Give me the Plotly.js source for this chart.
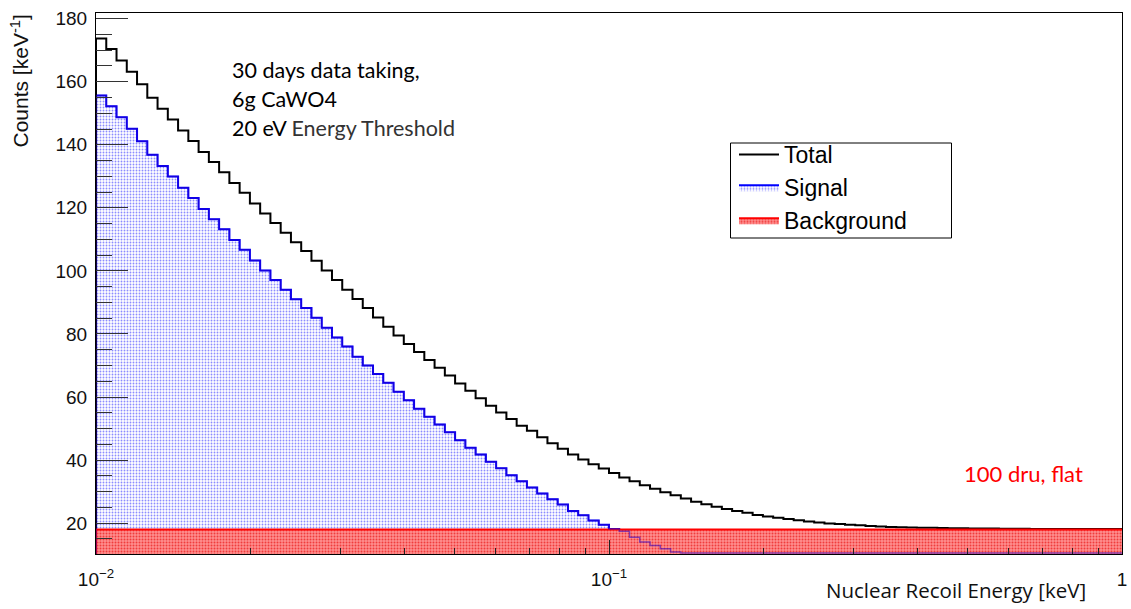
<!DOCTYPE html>
<html>
<head>
<meta charset="utf-8">
<script src="https://cdn.plot.ly/plotly-3.0.1.min.js"></script>
<style>
  html, body { margin: 0; padding: 0; background: #fff; }
  #chart { width: 1131px; height: 609px; }
</style>
</head>
<body>
<div id="chart"></div>
<script>
// ---- histogram binning (log-spaced bins, as in the reference) ----
const energyMin = 0.01;   // keV
const energyMax = 1;      // keV
const nBins = 100;

// ---- bin contents (counts / keV) ----
const totalCounts = [
  173.7,170.4,166.7,163.2,159.2,154.9,151.4,148.0,144.5,141.2,
  137.7,134.5,131.3,127.9,124.8,121.4,118.2,115.2,112.1,109.1,
  106.3,103.2,100.1,97.1,94.0,91.1,88.2,85.2,82.3,79.5,
  76.8,74.3,71.7,69.3,66.8,64.3,62.0,59.6,57.2,55.1,
  53.0,50.9,49.3,47.2,45.3,43.6,41.8,40.2,38.7,37.3,
  35.9,34.5,33.3,32.0,30.9,29.8,28.8,27.8,26.8,26.0,
  25.2,24.5,23.8,23.3,22.6,22.1,21.7,21.3,20.9,20.5,
  20.2,19.9,19.7,19.5,19.3,19.1,18.9,18.8,18.7,18.6,
  18.55,18.5,18.45,18.4,18.35,18.3,18.25,18.25,18.2,18.2,
  18.2,18.15,18.15,18.15,18.1,18.1,18.1,18.1,18.1,18.1
];
const signalCounts = [
  155.6,152.2,148.7,145.1,141.1,136.8,133.3,129.9,126.4,123.1,
  119.6,116.4,113.2,109.8,106.7,103.3,100.1,97.1,94.0,91.0,
  88.2,85.1,82.0,78.9,76.0,72.8,70.0,67.3,64.5,61.7,
  59.0,56.3,53.7,51.3,48.8,46.3,43.9,41.8,39.5,37.4,
  35.2,33.3,31.3,29.4,27.6,25.9,23.8,22.5,20.8,19.5,
  18.1,17.4,15.5,14.0,12.9,11.9,10.8,0,0,0,
  0,0,0,0,0,0,0,0,0,0,
  0,0,0,0,0,0,0,0,0,0,
  0,0,0,0,0,0,0,0,0,0,
  0,0,0,0,0,0,0,0,0,0
];
const backgroundCounts = [
  18,18,18,18,18,18,18,18,18,18,
  18,18,18,18,18,18,18,18,18,18,
  18,18,18,18,18,18,18,18,18,18,
  18,18,18,18,18,18,18,18,18,18,
  18,18,18,18,18,18,18,18,18,18,
  18,18,18,18,18,18,18,18,18,18,
  18,18,18,18,18,18,18,18,18,18,
  18,18,18,18,18,18,18,18,18,18,
  18,18,18,18,18,18,18,18,18,18,
  18,18,18,18,18,18,18,18,18,18
];

// ---- axes / labels ----
const yRange = [10.2, 181.8];
const xTickVals = [0.01, 0.1, 1];
const xTickText = ['10<sup>\u22122</sup>', '10<sup>\u22121</sup>', '1'];
const infoLines = ['30 days data taking,', '6g CaWO4', '20 eV <span style="color:#333">Energy Threshold</span>'];
const bgNote = '100 dru, flat';

// bin edges
const edges = [];
for (let i = 0; i <= nBins; i++) {
  edges.push(Math.pow(10, Math.log10(energyMin) + (Math.log10(energyMax) - Math.log10(energyMin)) * i / nBins));
}
// ROOT-style step path: starts at frame bottom, empty bins drawn on the frame minimum
function stepPath(vals) {
  const floor = yRange[0] + 0.3;
  const x = [edges[0]], y = [yRange[0]];
  for (let i = 0; i < vals.length; i++) { x.push(edges[i]); y.push(Math.max(vals[i], floor)); }
  x.push(edges[nBins]); y.push(Math.max(vals[vals.length - 1], floor));
  return {x, y};
}

const sig = stepPath(signalCounts);
const tot = stepPath(totalCounts);
const bkg = stepPath(backgroundCounts);

const traces = [
  {
    x: sig.x, y: sig.y, type: 'scatter', mode: 'lines', name: 'Signal', legendrank: 2,
    line: {shape: 'hv', color: '#0000ff', width: 2},
    fill: 'tozeroy',
    fillpattern: {shape: '.', size: 3, solidity: 0.3, fgcolor: '#8c8cff', bgcolor: '#ffffff'},
    hoverinfo: 'skip'
  },
  {
    x: tot.x, y: tot.y, type: 'scatter', mode: 'lines', name: 'Total', legendrank: 1,
    line: {shape: 'hv', color: '#000000', width: 2},
    hoverinfo: 'skip'
  },
  {
    x: bkg.x, y: bkg.y, type: 'scatter', mode: 'lines', name: 'Background', legendrank: 3,
    line: {shape: 'hv', color: '#ff0000', width: 2},
    fill: 'tozeroy',
    fillpattern: {shape: '.', size: 3, solidity: 0.35, fgcolor: '#f03c3c', bgcolor: '#ff8e8e'},
    hoverinfo: 'skip'
  },
  {
    x: sig.x, y: sig.y, type: 'scatter', mode: 'lines', showlegend: false,
    line: {shape: 'hv', color: 'rgba(40,0,200,0.55)', width: 1.5},
    hoverinfo: 'skip'
  }
];

const minorX = [];
for (let d = -2; d < 0; d++) for (let m = 2; m <= 9; m++) minorX.push(m * Math.pow(10, d));

const W = 1131, H = 609, mL = 96, mR = 9, mT = 13, mB = 55;
const pw = W - mL - mR, ph = H - mT - mB;
const px = v => (v - mL) / pw;
const py = v => (H - mB - v) / ph;

const annFont = {family: 'Lato, "Open Sans", sans-serif', size: 21.5, color: '#000'};
const annotations = [
  {text: infoLines[0], x: px(230), y: py(70), xanchor: 'left', yanchor: 'middle'},
  {text: infoLines[1], x: px(230), y: py(99), xanchor: 'left', yanchor: 'middle'},
  {text: infoLines[2], x: px(230), y: py(128), xanchor: 'left', yanchor: 'middle'},
].map(a => Object.assign(a, {xref: 'paper', yref: 'paper', showarrow: false, font: annFont}));
annotations.push({text: bgNote, x: px(962), y: py(473), xanchor: 'left', yanchor: 'middle',
  xref: 'paper', yref: 'paper', showarrow: false, font: Object.assign({}, annFont, {size: 22, color: '#ff0000'})});
annotations.push({text: 'Nuclear Recoil Energy [keV]', x: px(1088), y: py(590), xanchor: 'right', yanchor: 'middle',
  xref: 'paper', yref: 'paper', showarrow: false, font: {family: '"Open Sans", sans-serif', size: 20.5, color: '#111'}});
annotations.push({text: 'Counts [keV<sup>-1</sup>]', x: px(19), y: py(13), xanchor: 'center', yanchor: 'top', textangle: -90,
  xref: 'paper', yref: 'paper', showarrow: false, font: {family: '"Liberation Sans", Arial, sans-serif', size: 21, color: '#111'}});

// legend frame (ROOT TLegend box)
const shapes = [{
  type: 'rect', xref: 'paper', yref: 'paper',
  x0: px(730.5), x1: px(951.5), y0: py(238), y1: py(143),
  line: {color: '#000', width: 1}, fillcolor: '#fff', layer: 'above'
}];

const layout = {
  width: W, height: H,
  margin: {l: mL, r: mR, t: mT, b: mB},
  paper_bgcolor: '#fff', plot_bgcolor: '#fff',
  showlegend: true,
  legend: {
    x: px(734), y: py(133), xanchor: 'left', yanchor: 'top',
    borderwidth: 0, bgcolor: 'rgba(0,0,0,0)',
    font: {family: '"Liberation Sans", Arial, sans-serif', size: 23, color: '#000'},
    itemwidth: 40, tracegroupgap: 0
  },
  xaxis: {
    type: 'log', range: [Math.log10(energyMin), Math.log10(energyMax)],
    tickmode: 'array', tickvals: xTickVals, ticktext: xTickText,
    ticks: 'inside', ticklen: 14, tickwidth: 1, tickcolor: '#222',
    minor: {tickmode: 'array', tickvals: minorX, ticks: 'inside', ticklen: 6, tickwidth: 1, tickcolor: '#222', showgrid: false},
    showgrid: false, zeroline: false,
    showline: true, linecolor: '#000', linewidth: 1, mirror: true,
    tickfont: {family: '"Liberation Sans", Arial, sans-serif', size: 19, color: '#111'},
    ticklabelstandoff: 8
  },
  yaxis: {
    range: yRange, tick0: 0, dtick: 20,
    ticks: 'inside', ticklen: 32, tickwidth: 1, tickcolor: '#333',
    minor: {dtick: 5, ticks: 'inside', ticklen: 16, tickwidth: 1, tickcolor: '#333', showgrid: false},
    showgrid: false, zeroline: false,
    showline: true, linecolor: '#000', linewidth: 1, mirror: true,
    tickfont: {family: '"Liberation Sans", Arial, sans-serif', size: 19, color: '#111'},
    ticklabelstandoff: 4
  },
  shapes: shapes,
  annotations: annotations
};

Plotly.newPlot('chart', traces, layout, {staticPlot: true, displayModeBar: false});
</script>
</body>
</html>
